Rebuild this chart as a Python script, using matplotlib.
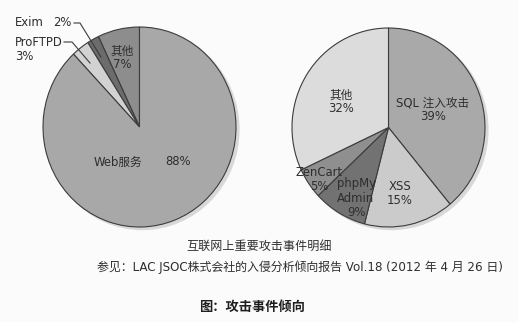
import matplotlib.pyplot as plt
from matplotlib.patches import Ellipse

# Latin glyphs from DejaVu, Chinese falls through to Noto CJK
plt.rcParams['font.family'] = ['DejaVu Sans', 'Noto Sans CJK SC']

# server software targeted
left_labels = ["其他", "Exim", "ProFTPD", "Web服务"]
left_values = [7, 2, 3, 88]
left_colors = ["#8d8d8d", "#6c6c6c", "#d2d2d2", "#a8a8a8"]

# attacks on web services
right_labels = ["SQL 注入攻击", "XSS", "phpMy\nAdmin", "ZenCart", "其他"]
right_values = [39, 15, 9, 5, 32]
right_colors = ["#a9a9a9", "#cbcbcb", "#727272", "#8f8f8f", "#dcdcdc"]

W, H = 518, 322
fig = plt.figure(figsize=(W / 100, H / 100), dpi=100)
fig.patch.set_facecolor("#fbfbfb")


def px(x, y):
    return x / W, 1 - y / H


def pie_axes(left, top, w, h):
    ax = fig.add_axes([left / W, 1 - (top + h) / H, w / W, h / H])
    return ax


def draw_pie(ax, values, colors, counterclock):
    # soft drop shadow towards the lower right
    ax.add_patch(Ellipse((0.03, -0.025), 2, 2, color="#d8d8d8", zorder=0,
                         clip_on=False))
    ax.pie(values, colors=colors, startangle=90, counterclock=counterclock,
           radius=1, frame=True,
           wedgeprops=dict(edgecolor="#3c3c3c", linewidth=0.8))
    ax.set_xlim(-1, 1)
    ax.set_ylim(-1, 1)
    ax.set_aspect("auto")
    ax.axis("off")


axl = pie_axes(43, 27, 193, 200)
draw_pie(axl, left_values, left_colors, True)

axr = pie_axes(292, 28, 193, 199)
draw_pie(axr, right_values, right_colors, False)

fs = 8.4
lab = dict(fontsize=fs, color="#2e2e2e", ha="center", va="center",
           linespacing=1.1)

# left pie labels
fig.text(*px(122, 58), f"{left_labels[0]}\n{left_values[0]}%", **lab)
fig.text(*px(118, 162), left_labels[3], **lab)
fig.text(*px(178, 162), f"{left_values[3]}%", **lab)
fig.text(*px(15, 22), f"{left_labels[1]}", fontsize=fs, color="#2e2e2e",
         ha="left", va="center")
fig.text(*px(53, 22), f"{left_values[1]}%", fontsize=fs, color="#2e2e2e",
         ha="left", va="center")
fig.text(*px(15, 49), f"{left_labels[2]}\n{left_values[2]}%", fontsize=fs,
         color="#2e2e2e", ha="left", va="center", linespacing=1.1)

# leader lines for the thin slices
fig.add_artist(plt.Line2D([74 / W, 80 / W, 101 / W],
                          [1 - 23 / H, 1 - 23 / H, 1 - 57 / H],
                          color="#3c3c3c", linewidth=0.8))
fig.add_artist(plt.Line2D([64 / W, 72 / W, 90 / W],
                          [1 - 42 / H, 1 - 42 / H, 1 - 63 / H],
                          color="#3c3c3c", linewidth=0.8))

# right pie labels
fig.text(*px(433, 110), f"{right_labels[0]}\n{right_values[0]}%", **lab)
fig.text(*px(400, 193), f"{right_labels[1]}\n{right_values[1]}%", **lab)
fig.text(*px(356, 198), f"{right_labels[2]}\n{right_values[2]}%", **lab)
fig.text(*px(319, 180), f"{right_labels[3]}\n{right_values[3]}%", **lab)
fig.text(*px(341, 102), f"{right_labels[4]}\n{right_values[4]}%", **lab)

# captions
fig.text(*px(259, 246), "互联网上重要攻击事件明细", fontsize=8.7,
         color="#2e2e2e", ha="center", va="center")
fig.text(*px(97, 267), "参见：LAC JSOC株式会社的入侵分析倾向报告 Vol.18 (2012 年 4 月 26 日)",
         fontsize=8.6, color="#2e2e2e", ha="left", va="center")
fig.text(*px(252, 307), "图：攻击事件倾向", fontsize=9.5, fontweight="bold",
         color="#1e1e1e", ha="center", va="center")

fig.savefig("out.png", dpi=100, facecolor=fig.get_facecolor())
